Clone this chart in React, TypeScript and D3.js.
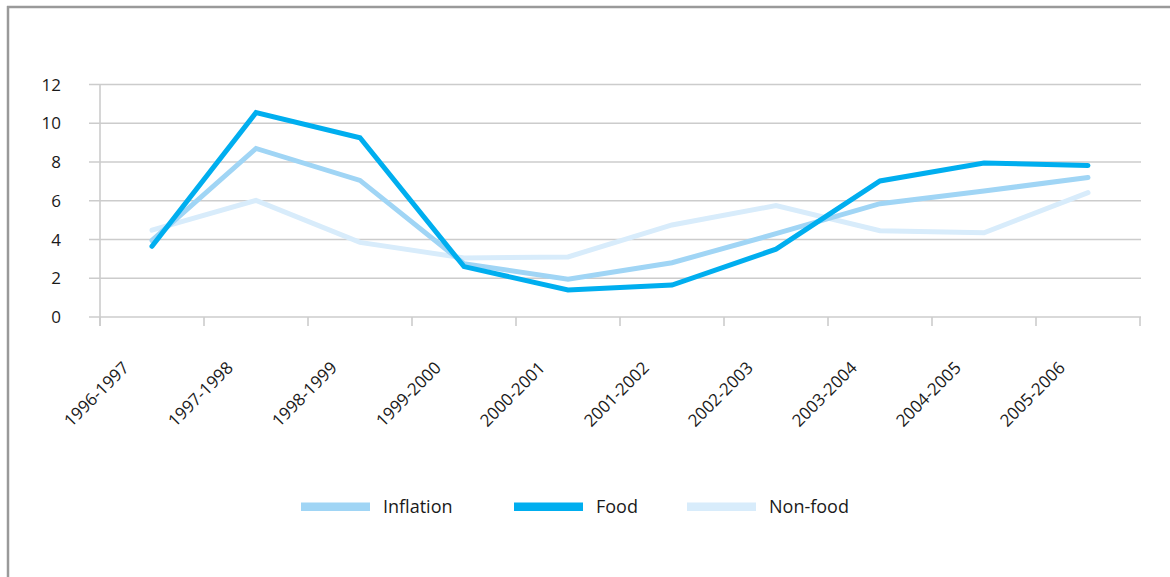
import React, { useEffect, useRef } from "react";
import * as d3 from "d3";

const categories = [
  "1996-1997", "1997-1998", "1998-1999", "1999-2000", "2000-2001",
  "2001-2002", "2002-2003", "2003-2004", "2004-2005", "2005-2006",
];
const inflation = [3.95, 8.7, 7.05, 2.75, 1.95, 2.8, 4.3, 5.85, 6.5, 7.2];
const food = [3.65, 10.55, 9.25, 2.6, 1.4, 1.65, 3.5, 7.02, 7.95, 7.82];
const nonFood = [4.48, 6.02, 3.85, 3.05, 3.1, 4.75, 5.75, 4.45, 4.35, 6.42];
const yTicks = [0, 2, 4, 6, 8, 10, 12];

const seriesNames = ["Inflation", "Food", "Non-food"];
const seriesColors = ["#a0d5f5", "#00aeef", "#d8ecfb"];

const W = 1170;
const H = 577;
const FONT = "'Open Sans', sans-serif";

export default function App() {
  const ref = useRef<SVGSVGElement | null>(null);

  useEffect(() => {
    const svg = d3.select(ref.current);
    svg.selectAll("*").remove();

    // frame
    svg.append("line").attr("x1", 7).attr("x2", W).attr("y1", 7).attr("y2", 7)
      .attr("stroke", "#9a9a9a").attr("stroke-width", 2.5);
    svg.append("line").attr("x1", 8).attr("x2", 8).attr("y1", 6).attr("y2", H)
      .attr("stroke", "#9a9a9a").attr("stroke-width", 2.5);

    const x = d3.scaleBand<string>().domain(categories).range([100, 1140]);
    const y = d3.scaleLinear().domain([0, 12]).range([317, 84.5]);

    const g = svg.append("g");

    // gridlines
    g.selectAll("line.grid").data(yTicks).enter().append("line")
      .attr("x1", 89).attr("x2", 1141)
      .attr("y1", (d) => y(d)).attr("y2", (d) => y(d))
      .attr("stroke", "#cccccc").attr("stroke-width", 1.6);

    // vertical axis line
    g.append("line").attr("x1", 100).attr("x2", 100).attr("y1", y(12)).attr("y2", 326)
      .attr("stroke", "#cccccc").attr("stroke-width", 1.6);

    // x ticks
    const tickXs = categories.map((c) => (x(c) as number) + x.bandwidth()).concat([100]);
    g.selectAll("line.xt").data(tickXs).enter().append("line")
      .attr("x1", (d) => d).attr("x2", (d) => d)
      .attr("y1", 317).attr("y2", 326)
      .attr("stroke", "#cccccc").attr("stroke-width", 1.6);

    // y labels
    g.selectAll("text.yl").data(yTicks).enter().append("text")
      .attr("x", 61).attr("y", (d) => y(d) + 6)
      .attr("text-anchor", "end")
      .attr("font-family", FONT).attr("font-size", 17).attr("fill", "#1a1a1a")
      .text((d) => String(d));

    // x labels
    g.selectAll("text.xl").data(categories).enter().append("text")
      .attr("transform", (c) => {
        const cx = (x(c) as number) + x.bandwidth() / 2 - 22;
        return `translate(${cx},${369}) rotate(-45)`;
      })
      .attr("text-anchor", "end")
      .attr("font-family", FONT).attr("font-size", 17).attr("fill", "#1a1a1a")
      .text((c) => c);

    const data = [inflation, food, nonFood];
    const drawOrder = [2, 0, 1];
    const line = d3.line<number>()
      .x((_, i) => (x(categories[i]) as number) + x.bandwidth() / 2)
      .y((d) => y(d));

    drawOrder.forEach((si) => {
      g.append("path")
        .attr("d", line(data[si]) as string)
        .attr("fill", "none")
        .attr("stroke", seriesColors[si])
        .attr("stroke-width", 5)
        .attr("stroke-linejoin", "miter")
        .attr("stroke-linecap", "round");
    });

    // legend
    const legendX = [301, 514, 687];
    seriesNames.forEach((name, i) => {
      g.append("rect").attr("x", legendX[i]).attr("y", 502.5)
        .attr("width", 69).attr("height", 8.5).attr("fill", seriesColors[i]);
      g.append("text").attr("x", legendX[i] + 82).attr("y", 513)
        .attr("font-family", FONT).attr("font-size", 18).attr("fill", "#1a1a1a")
        .text(name);
    });
  }, []);

  return (
    <svg ref={ref} width={W} height={H}
      style={{ position: "absolute", left: 0, top: 0, background: "#fff" }} />
  );
}
